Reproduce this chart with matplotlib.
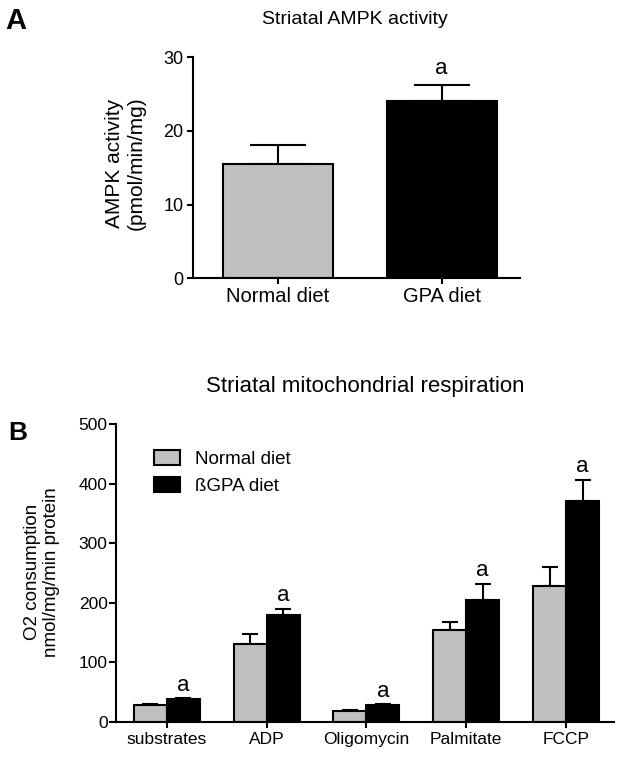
import matplotlib
matplotlib.use("Agg")
import matplotlib.pyplot as plt
import numpy as np
from matplotlib.patches import Patch

plt.rcParams['font.family'] = ['Liberation Sans', 'DejaVu Sans']

# ---- Panel A data ----
a_categories = ["Normal diet", "GPA diet"]
a_means = [15.5, 24.1]
a_sem = [2.6, 2.2]
a_sig = ["", "a"]
a_colors = ["#c0c0c0", "#000000"]
a_yticks = [0, 10, 20, 30]

# ---- Panel B data ----
b_categories = ["substrates", "ADP", "Oligomycin", "Palmitate", "FCCP"]
b_normal = [28, 131, 18, 154, 228]
b_normal_sem = [1.5, 17, 1.0, 13, 32]
b_bgpa = [37.5, 179, 27.5, 204, 371]
b_bgpa_sem = [1.5, 10, 1.5, 27, 35]
b_sig = ["a", "a", "a", "a", "a"]
b_series = ["Normal diet", "ßGPA diet"]
b_yticks = [0, 100, 200, 300, 400, 500]

W, H = 624, 758
fig = plt.figure(figsize=(W / 100, H / 100), dpi=100)

def px_axes(l, t, r, b):
    return fig.add_axes([l / W, 1 - b / H, (r - l) / W, (b - t) / H])

LW = 1.5

# ---------------- Panel A ----------------
axA = px_axes(193, 57.3, 520, 278.3)
xa = np.arange(len(a_categories))
axA.bar(xa, a_means, width=0.67, color=a_colors, edgecolor="black",
        linewidth=LW, zorder=2)
axA.errorbar(xa, a_means, yerr=[np.zeros(len(a_means)), a_sem], fmt="none",
             ecolor="black", elinewidth=LW, capsize=20, capthick=LW, zorder=1)
for x, m, s, t in zip(xa, a_means, a_sem, a_sig):
    if t:
        axA.annotate(t, (x, m + s), xytext=(0, 11.5), textcoords="offset points",
                     ha="center", va="center", fontsize=16)
axA.set_xlim(-0.516, 1.477)
axA.set_ylim(0, 30)
axA.set_yticks(a_yticks)
axA.set_xticks(xa)
axA.set_xticklabels(a_categories, fontsize=14.5)
axA.tick_params(axis="y", labelsize=13, length=4, width=LW, pad=3)
axA.tick_params(axis="x", length=4.5, width=LW, pad=2)
for sp in ["top", "right"]:
    axA.spines[sp].set_visible(False)
for sp in ["left", "bottom"]:
    axA.spines[sp].set_linewidth(LW)

fig.text(355 / W, 1 - 20 / H, "Striatal AMPK activity", ha="center",
         va="center", fontsize=14)
fig.text(5 / W, 1 - 21 / H, "A", ha="left", va="center", fontsize=21,
         fontweight="bold")
fig.text(125 / W, 1 - 163 / H, "AMPK activity\n(pmol/min/mg)", rotation=90,
         ha="center", va="center", multialignment="center", fontsize=15)

# ---------------- Panel B ----------------
axB = px_axes(116, 424, 614, 721.7)
xb = np.arange(len(b_categories))
bw = 0.33
axB.bar(xb - bw / 2, b_normal, width=bw, color="#c0c0c0", edgecolor="black",
        linewidth=LW, zorder=2, label=b_series[0])
axB.bar(xb + bw / 2, b_bgpa, width=bw, color="black", edgecolor="black",
        linewidth=LW, zorder=2, label=b_series[1])
axB.errorbar(xb - bw / 2, b_normal,
             yerr=[np.zeros(len(b_normal)), b_normal_sem], fmt="none",
             ecolor="black", elinewidth=LW, capsize=6, capthick=LW, zorder=1)
axB.errorbar(xb + bw / 2, b_bgpa,
             yerr=[np.zeros(len(b_bgpa)), b_bgpa_sem], fmt="none",
             ecolor="black", elinewidth=LW, capsize=6, capthick=LW, zorder=1)
for x, m, s, t in zip(xb, b_bgpa, b_bgpa_sem, b_sig):
    if t:
        axB.annotate(t, (x + bw / 2, m + s), xytext=(0, 9.5),
                     textcoords="offset points", ha="center", va="center",
                     fontsize=16)
axB.set_xlim(-0.508, 4.48)
axB.set_ylim(0, 500)
axB.set_yticks(b_yticks)
axB.set_xticks(xb)
axB.set_xticklabels(b_categories, fontsize=12.5)
axB.tick_params(axis="y", labelsize=12.5, length=5, width=LW, pad=1)
axB.tick_params(axis="x", length=4.5, width=LW, pad=3)
for sp in ["top", "right"]:
    axB.spines[sp].set_visible(False)
for sp in ["left", "bottom"]:
    axB.spines[sp].set_linewidth(LW)

handles = [Patch(facecolor="#c0c0c0", edgecolor="black", linewidth=LW),
           Patch(facecolor="black", edgecolor="black", linewidth=LW)]
axB.legend(handles, b_series, loc="upper left", bbox_to_anchor=(0.076, 0.912),
           frameon=False, fontsize=13.5, handlelength=1.4, handleheight=0.85,
           handletextpad=0.8, labelspacing=0.45, borderpad=0, borderaxespad=0)

fig.text(365 / W, 1 - 386.7 / H, "Striatal mitochondrial respiration",
         ha="center", va="center", fontsize=16)
fig.text(8 / W, 1 - 433 / H, "B", ha="left", va="center", fontsize=19,
         fontweight="bold")
fig.text(42 / W, 1 - 572 / H, "O2 consumption\nnmol/mg/min protein",
         rotation=90, ha="center", va="center", multialignment="center",
         fontsize=13.5)

fig.savefig("out.png", dpi=100)
